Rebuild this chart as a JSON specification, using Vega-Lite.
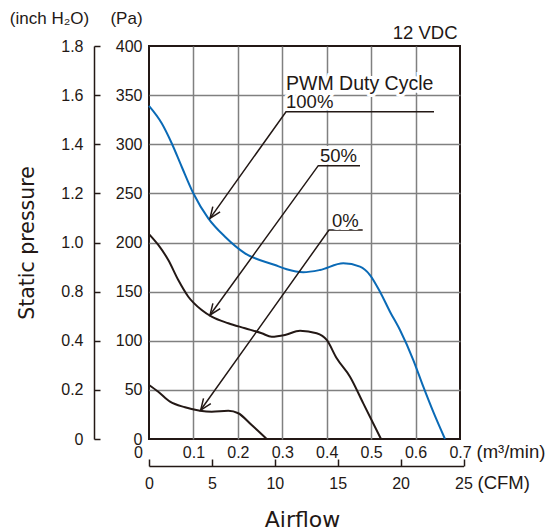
{
  "$schema": "https://vega.github.io/schema/vega-lite/v6.json",
  "width": 311,
  "height": 393,
  "autosize": "none",
  "padding": {"left": 149, "top": 46, "right": 92, "bottom": 92},
  "background": "white",
  "config": {
    "view": {"stroke": "#231815", "strokeWidth": 2},
    "axis": {
      "labelFont": "Liberation Sans",
      "labelFontSize": 16,
      "labelColor": "#231815",
      "titleFont": "Liberation Sans",
      "titleFontSize": 17,
      "titleFontWeight": "normal",
      "titleColor": "#231815",
      "gridColor": "#808080",
      "gridWidth": 1.5,
      "labelFlush": false,
      "labelOverlap": false
    }
  },
  "layer": [
    {
      "encoding": {
        "x": {
          "field": "q", "type": "quantitative",
          "scale": {"domain": [0, 0.7], "nice": false},
          "axis": {
            "orient": "bottom",
            "values": [0, 0.1, 0.2, 0.3, 0.4, 0.5, 0.6, 0.7],
            "grid": true,
            "gridOpacity": {"condition": {"test": "datum.value == 0 || datum.value >= 0.69", "value": 0}, "value": 1},
            "ticks": false,
            "domain": false,
            "labelPadding": 5,
            "labelExpr": "datum.value == 0 ? '0' : format(datum.value, '.1f')",
            "labelOffset": {"condition": {"test": "datum.value == 0", "value": -11}, "value": 0},
            "title": "(m\u00b3/min)", "titleFontSize": 18.5,
            "titleX": 327, "titleY": 12, "titleAngle": 0, "titleAlign": "left", "titleBaseline": "middle"
          }
        },
        "y": {
          "field": "pa", "type": "quantitative",
          "scale": {"domain": [0, 400], "nice": false},
          "axis": {
            "orient": "left",
            "values": [0, 50, 100, 150, 200, 250, 300, 350, 400],
            "grid": true,
            "gridOpacity": {"condition": {"test": "datum.value == 0 || datum.value == 400", "value": 0}, "value": 1},
            "ticks": false,
            "domain": false,
            "labelPadding": 7,
            "title": "(Pa)",
            "titleX": -23, "titleY": -28, "titleAngle": 0, "titleAlign": "center", "titleBaseline": "middle"
          }
        }
      },
      "layer": [
        {
          "data": {"values": [
            {"s": "100%", "q": 0, "pa": 339}, {"s": "100%", "q": 0.0286, "pa": 321.3}, {"s": "100%", "q": 0.0511, "pa": 301}, {"s": "100%", "q": 0.0736, "pa": 277.1}, {"s": "100%", "q": 0.0997, "pa": 250.1}, {"s": "100%", "q": 0.1335, "pa": 224.6}, {"s": "100%", "q": 0.1711, "pa": 205.9}, {"s": "100%", "q": 0.2161, "pa": 189}, {"s": "100%", "q": 0.2836, "pa": 177.1}, {"s": "100%", "q": 0.3099, "pa": 172.7}, {"s": "100%", "q": 0.3473, "pa": 169.7}, {"s": "100%", "q": 0.3849, "pa": 172}, {"s": "100%", "q": 0.4373, "pa": 178.8}, {"s": "100%", "q": 0.4749, "pa": 175.4}, {"s": "100%", "q": 0.4974, "pa": 166.9}, {"s": "100%", "q": 0.5199, "pa": 149.9}, {"s": "100%", "q": 0.5424, "pa": 129.6}, {"s": "100%", "q": 0.5649, "pa": 110.9}, {"s": "100%", "q": 0.5949, "pa": 80.4}, {"s": "100%", "q": 0.6174, "pa": 53.2}, {"s": "100%", "q": 0.6399, "pa": 27.5}, {"s": "100%", "q": 0.6662, "pa": 0},
            {"s": "50%", "q": 0, "pa": 208.6}, {"s": "50%", "q": 0.0209, "pa": 197.5}, {"s": "50%", "q": 0.0434, "pa": 182.2}, {"s": "50%", "q": 0.0659, "pa": 161.8}, {"s": "50%", "q": 0.0885, "pa": 144.8}, {"s": "50%", "q": 0.1186, "pa": 131.3}, {"s": "50%", "q": 0.1411, "pa": 124.5}, {"s": "50%", "q": 0.1785, "pa": 117.8}, {"s": "50%", "q": 0.2161, "pa": 112.7}, {"s": "50%", "q": 0.2537, "pa": 107.6}, {"s": "50%", "q": 0.2762, "pa": 104.1}, {"s": "50%", "q": 0.3061, "pa": 105.9}, {"s": "50%", "q": 0.3399, "pa": 110.2}, {"s": "50%", "q": 0.3774, "pa": 107.6}, {"s": "50%", "q": 0.4, "pa": 100.8}, {"s": "50%", "q": 0.4225, "pa": 82.1}, {"s": "50%", "q": 0.4524, "pa": 63.4}, {"s": "50%", "q": 0.4823, "pa": 36.3}, {"s": "50%", "q": 0.5222, "pa": 0},
            {"s": "0%", "q": 0, "pa": 55}, {"s": "0%", "q": 0.0209, "pa": 48.1}, {"s": "0%", "q": 0.0473, "pa": 38}, {"s": "0%", "q": 0.081, "pa": 32.3}, {"s": "0%", "q": 0.1148, "pa": 28.8}, {"s": "0%", "q": 0.1411, "pa": 27.8}, {"s": "0%", "q": 0.1785, "pa": 28.8}, {"s": "0%", "q": 0.201, "pa": 26.2}, {"s": "0%", "q": 0.2311, "pa": 14.2}, {"s": "0%", "q": 0.2649, "pa": 0}
          ]},
          "mark": {"type": "line", "interpolate": "monotone", "strokeWidth": 2},
          "encoding": {
            "color": {"field": "s", "type": "nominal", "scale": {"domain": ["100%", "50%", "0%"], "range": ["#0a6ab6", "#231815", "#231815"]}, "legend": null}
          }
        },
        {
          "data": {"values": [
            {"g": "L100", "o": 1, "q": 0.6415, "pa": 333.1}, {"g": "L100", "o": 2, "q": 0.3084, "pa": 333.1}, {"g": "L100", "o": 3, "q": 0.1373, "pa": 224.6},
            {"g": "A100", "o": 1, "q": 0.16, "pa": 231.1}, {"g": "A100", "o": 2, "q": 0.1373, "pa": 224.6}, {"g": "A100", "o": 3, "q": 0.1436, "pa": 236.5},
            {"g": "L50", "o": 1, "q": 0.4749, "pa": 278.2}, {"g": "L50", "o": 2, "q": 0.381, "pa": 278.2}, {"g": "L50", "o": 3, "q": 0.1373, "pa": 126.2},
            {"g": "A50", "o": 1, "q": 0.1603, "pa": 132.7}, {"g": "A50", "o": 2, "q": 0.1373, "pa": 126.2}, {"g": "A50", "o": 3, "q": 0.1438, "pa": 138},
            {"g": "L0", "o": 1, "q": 0.481, "pa": 212.7}, {"g": "L0", "o": 2, "q": 0.4051, "pa": 212.7}, {"g": "L0", "o": 3, "q": 0.1164, "pa": 29.5},
            {"g": "A0", "o": 1, "q": 0.1391, "pa": 36.1}, {"g": "A0", "o": 2, "q": 0.1164, "pa": 29.5}, {"g": "A0", "o": 3, "q": 0.1227, "pa": 41.4}
          ]},
          "mark": {"type": "line", "interpolate": "linear", "strokeWidth": 1.5, "color": "#231815"},
          "encoding": {
            "detail": {"field": "g", "type": "nominal"},
            "order": {"field": "o", "type": "quantitative"}
          }
        },
        {
          "data": {"values": [
            {"label": "PWM Duty Cycle", "q": 0.3084, "pa": 361.3}
          ]},
          "layer": [
            {"mark": {"type": "text", "align": "left", "baseline": "middle", "font": "Liberation Sans", "fontSize": 19.5, "stroke": "white", "strokeWidth": 6, "fill": "white"}, "encoding": {"text": {"field": "label"}}},
            {"mark": {"type": "text", "align": "left", "baseline": "middle", "font": "Liberation Sans", "fontSize": 19.5, "fill": "#231815"}, "encoding": {"text": {"field": "label"}}}
          ]
        },
        {
          "data": {"values": [
            {"label": "100%", "q": 0.3084, "pa": 343.3},
            {"label": "50%", "q": 0.3849, "pa": 288.3},
            {"label": "0%", "q": 0.4119, "pa": 221.9}
          ]},
          "layer": [
            {"mark": {"type": "text", "align": "left", "baseline": "middle", "font": "Liberation Sans", "fontSize": 18.5, "stroke": "white", "strokeWidth": 6, "fill": "white"}, "encoding": {"text": {"field": "label"}}},
            {"mark": {"type": "text", "align": "left", "baseline": "middle", "font": "Liberation Sans", "fontSize": 18.5, "fill": "#231815"}, "encoding": {"text": {"field": "label"}}}
          ]
        }
      ]
    },
    {
      "data": {"values": [{"inchpos": 0, "af": 0}, {"inchpos": 400, "af": 1}]},
      "mark": {"type": "point", "opacity": 0},
      "encoding": {
        "y": {
          "field": "inchpos", "type": "quantitative",
          "scale": {"domain": [0, 400], "nice": false},
          "axis": {
            "orient": "left", "offset": 55,
            "values": [0, 50, 100, 150, 200, 250, 300, 350, 400],
            "labelExpr": "['0', '0.2', '0.4', '0.8', '1.0', '1.2', '1.4', '1.6', '1.8'][round(datum.value / 50)]",
            "grid": false,
            "domain": true, "domainColor": "#231815", "domainWidth": 1.5,
            "ticks": true, "tickSize": -6, "tickColor": "#231815", "tickWidth": 1.5,
            "labelPadding": 17,
            "title": "(inch H\u2082O)",
            "titleX": -45, "titleY": -28, "titleAngle": 0, "titleAlign": "center", "titleBaseline": "middle"
          }
        },
        "x": {
          "field": "af", "type": "quantitative",
          "scale": {"domain": [0, 1], "nice": false},
          "axis": {
            "orient": "bottom", "grid": false, "domain": false, "ticks": false, "labels": false,
            "title": "Airflow", "titleFont": "DejaVu Sans", "titleFontSize": 22,
            "titleX": 153, "titleY": 80, "titleAngle": 0, "titleAlign": "center", "titleBaseline": "middle"
          }
        }
      }
    },
    {
      "data": {"values": [{"cfm": 0, "sp": 0}, {"cfm": 25, "sp": 1}]},
      "mark": {"type": "point", "opacity": 0},
      "encoding": {
        "x": {
          "field": "cfm", "type": "quantitative",
          "scale": {"domain": [0, 25], "range": [0, 314.5], "nice": false},
          "axis": {
            "orient": "bottom", "offset": 27,
            "values": [0, 5, 10, 15, 20, 25],
            "grid": false,
            "domain": true, "domainColor": "#231815", "domainWidth": 1.5,
            "ticks": true, "tickSize": -7, "tickColor": "#231815", "tickWidth": 1.5,
            "labelPadding": 16,
            "title": "(CFM)", "titleFontSize": 18.5,
            "titleX": 328, "titleY": 16, "titleAngle": 0, "titleAlign": "left", "titleBaseline": "middle"
          }
        },
        "y": {
          "field": "sp", "type": "quantitative",
          "scale": {"domain": [0, 1], "nice": false},
          "axis": {
            "orient": "left", "grid": false, "domain": false, "ticks": false, "labels": false,
            "title": "Static pressure", "titleFont": "DejaVu Sans", "titleFontSize": 20.5,
            "titleX": -121.5, "titleY": 196.5, "titleAngle": -90, "titleAlign": "center", "titleBaseline": "middle"
          }
        }
      }
    },
    {
      "data": {"values": [{"v": 0}, {"v": 1}]},
      "mark": {"type": "point", "opacity": 0},
      "encoding": {
        "x": {
          "field": "v", "type": "quantitative",
          "scale": {"domain": [0, 1], "nice": false},
          "axis": {
            "orient": "top", "grid": false, "domain": false, "ticks": false, "labels": false,
            "title": "12 VDC", "titleFontSize": 18.5,
            "titleX": 308, "titleY": -14, "titleAngle": 0, "titleAlign": "right", "titleBaseline": "middle"
          }
        }
      }
    }
  ],
  "resolve": {
    "scale": {"x": "independent", "y": "independent"},
    "axis": {"x": "independent", "y": "independent"}
  }
}
